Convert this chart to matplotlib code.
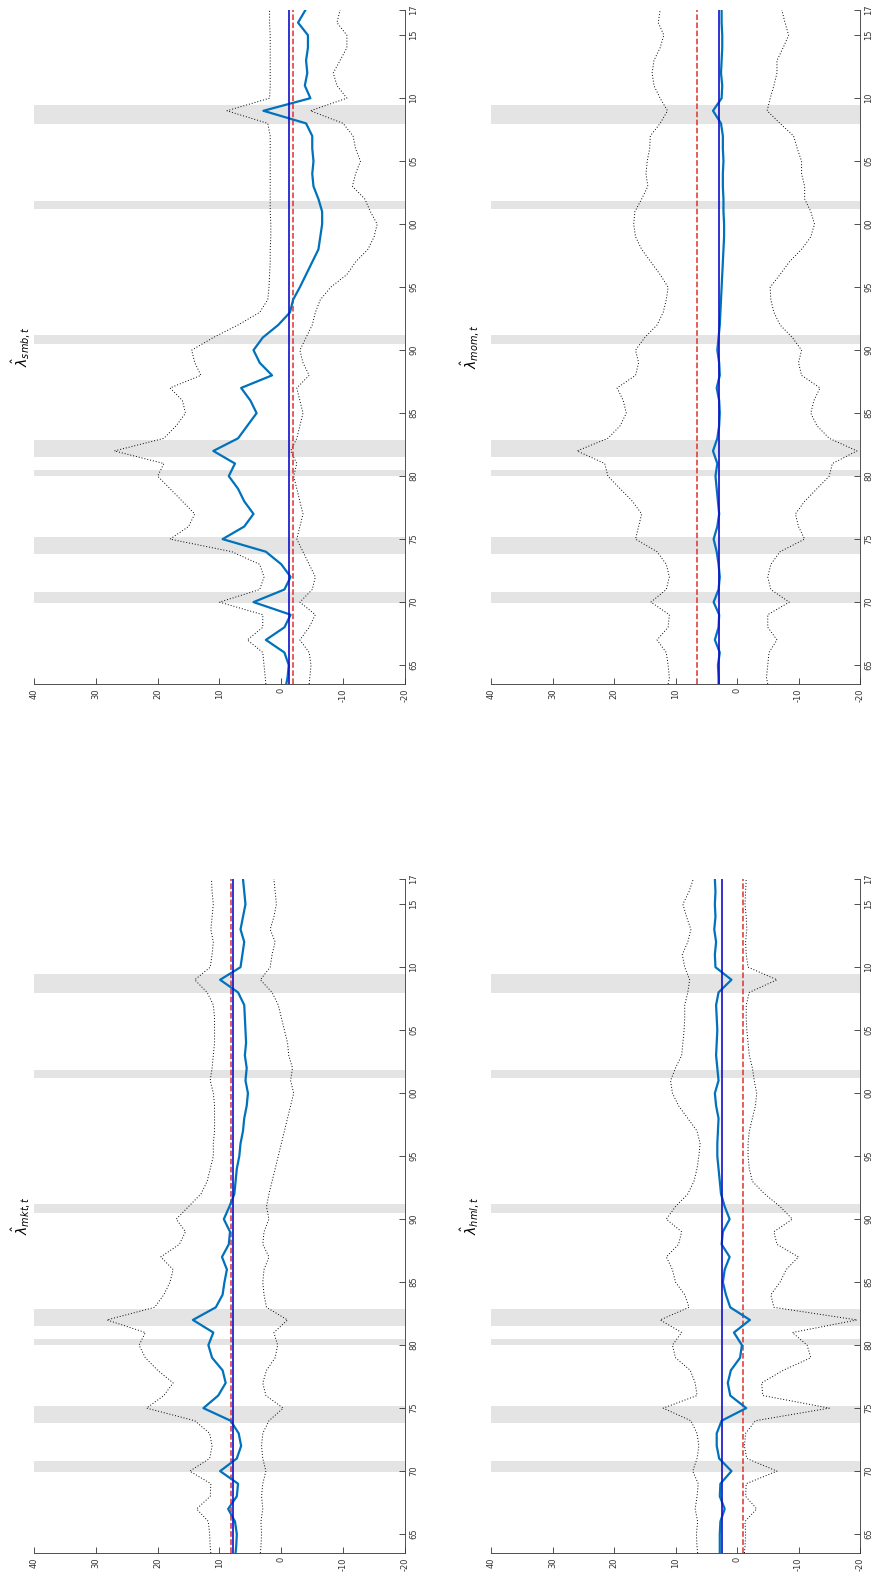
import numpy as np
import matplotlib
matplotlib.use("Agg")
import matplotlib.pyplot as plt

# sample dates (fractional years)
YEARS = [1963.5] + list(range(1964, 2018))

# NBER recessions (start, end)
RECESSIONS = [(1969.92, 1970.83), (1973.83, 1975.17), (1980.0, 1980.5),
              (1981.5, 1982.83), (1990.5, 1991.17), (2001.17, 2001.83),
              (2007.92, 2009.42)]

YEAR_TICKS = [1965, 1970, 1975, 1980, 1985, 1990, 1995, 2000, 2005, 2010, 2015, 2017]
YEAR_LABELS = ["65", "70", "75", "80", "85", "90", "95", "00", "05", "10", "15", "17"]
VALUE_TICKS = [40, 30, 20, 10, 0, -10, -20]

# market
lam_mkt = [7.4, 7.3, 7.2, 7.5, 8.6, 7.2, 7.0, 9.9, 7.2, 6.5, 6.9, 8.2, 12.6, 10.2,
           9.0, 9.5, 11.2, 11.8, 11.0, 14.3, 10.6, 9.5, 9.2, 8.8, 9.6, 8.5, 8.3,
           9.3, 8.4, 7.6, 7.4, 7.2, 6.8, 6.6, 6.2, 6.0, 5.6, 5.4, 5.8, 5.6, 5.9,
           5.7, 5.8, 5.9, 6.0, 7.0, 9.9, 6.6, 6.3, 6.0, 6.6, 6.2, 5.8, 6.0, 6.2]
up_mkt = [11.4, 11.5, 11.6, 11.8, 13.7, 11.5, 11.4, 14.8, 11.6, 11.2, 11.6, 14.0,
          21.8, 19.0, 17.5, 20.0, 22.0, 23.0, 22.0, 28.2, 20.5, 19.0, 18.0, 17.5,
          19.5, 16.5, 15.5, 17.0, 15.0, 13.0, 12.0, 11.5, 11.0, 11.0, 10.8, 10.8,
          10.8, 11.0, 11.5, 11.2, 11.0, 10.8, 10.8, 10.8, 11.0, 12.0, 14.0, 11.5,
          11.2, 11.0, 11.4, 11.2, 11.0, 11.2, 11.3]
lo_mkt = [3.4, 3.3, 3.2, 3.3, 3.0, 3.2, 3.0, 2.5, 3.0, 3.2, 3.0, 2.0, -0.3, 2.5,
          3.0, 2.4, 1.0, 0.6, 1.2, -1.0, 2.4, 2.8, 3.0, 2.8, 2.0, 3.0, 2.8, 2.0,
          2.4, 2.0, 1.5, 1.0, 0.5, 0.0, -0.5, -1.0, -1.5, -2.0, -1.5, -1.8, -1.2,
          -1.0, -0.5, 0.0, 0.5, 1.5, 3.4, 1.8, 1.5, 1.0, 1.8, 1.2, 0.8, 1.0, 1.2]
const_mkt, mean_mkt = 7.8, 8.2

# size
lam_smb = [-0.8, -1.0, -1.2, -0.5, 2.5, -0.5, -1.5, 4.5, -0.5, -1.5, 0.0, 2.5, 9.5,
           6.0, 4.5, 6.0, 7.0, 8.5, 7.5, 11.0, 7.0, 5.5, 4.0, 5.0, 6.5, 1.5, 3.5,
           4.5, 3.0, 0.5, -1.4, -1.9, -3.0, -4.0, -5.0, -6.0, -6.3, -6.6, -6.6,
           -6.0, -5.2, -5.0, -5.2, -5.0, -5.0, -4.0, 2.9, -4.7, -3.8, -4.2, -4.0,
           -4.3, -4.3, -2.7, -3.9]
up_smb = [2.5, 2.6, 2.8, 3.0, 5.5, 3.0, 3.0, 10.0, 3.5, 2.8, 3.5, 8.0, 18.0, 15.0,
          14.0, 16.0, 18.0, 20.0, 19.0, 27.0, 19.0, 17.0, 15.5, 16.0, 18.0, 13.0,
          14.0, 14.5, 11.0, 7.0, 3.5, 2.2, 2.0, 1.9, 1.8, 1.8, 1.7, 1.7, 1.8, 1.8,
          1.8, 1.8, 1.8, 1.8, 1.8, 2.2, 8.8, 1.9, 1.8, 1.8, 1.8, 1.8, 1.8, 1.9, 1.9]
lo_smb = [-4.5, -4.6, -4.8, -4.5, -3.0, -4.5, -5.5, -3.0, -5.0, -5.5, -4.5, -3.5,
          -2.5, -3.0, -3.5, -3.0, -2.5, -2.0, -2.5, -1.5, -2.5, -3.0, -3.5, -3.0,
          -2.5, -4.5, -3.5, -3.0, -4.0, -5.0, -5.5, -6.3, -8.0, -10.6, -12.0,
          -14.0, -15.0, -15.5, -14.4, -13.5, -11.5, -12.0, -12.8, -12.0, -11.6,
          -10.0, -4.7, -10.6, -9.0, -8.4, -9.5, -10.6, -10.6, -9.0, -9.5]
const_smb, mean_smb = -1.3, -1.9

# value
lam_hml = [2.8, 2.8, 2.8, 2.7, 2.0, 2.8, 2.7, 0.9, 2.9, 3.3, 3.3, 2.5, -1.5, 1.1,
           1.5, 1.0, -0.5, -0.8, 0.5, -2.1, 1.1, 1.8, 2.3, 2.0, 1.2, 2.5, 2.3,
           1.2, 2.0, 2.6, 2.8, 3.0, 3.2, 3.2, 3.1, 3.0, 3.4, 3.6, 3.0, 3.2, 3.4,
           3.3, 3.2, 3.3, 3.4, 3.0, 0.9, 3.5, 3.6, 3.4, 3.7, 3.5, 3.6, 3.5, 3.6]
up_hml = [6.4, 6.5, 6.6, 6.4, 6.8, 6.5, 6.3, 7.2, 6.5, 6.2, 6.5, 7.5, 12.0, 6.5,
          6.8, 7.6, 10.0, 10.5, 9.0, 12.5, 7.8, 8.5, 10.0, 10.5, 11.5, 9.5, 9.0,
          11.5, 10.0, 8.0, 7.0, 6.5, 6.2, 6.0, 6.5, 8.0, 9.5, 10.5, 10.8, 10.0,
          9.0, 8.8, 8.6, 8.5, 8.5, 8.0, 7.7, 8.5, 8.9, 8.0, 7.5, 8.2, 8.8, 7.8, 7.1]
lo_hml = [-1.2, -1.3, -1.4, -1.3, -3.2, -1.4, -1.5, -6.5, -1.6, -1.2, -1.4, -3.0,
          -15.0, -4.2, -4.0, -7.5, -12.0, -11.4, -9.0, -19.5, -6.0, -5.5, -7.0,
          -8.0, -10.0, -6.5, -6.0, -9.0, -7.0, -4.5, -2.5, -2.0, -1.8, -1.8, -2.0,
          -2.5, -3.0, -3.2, -2.8, -2.5, -2.0, -1.8, -1.6, -1.5, -1.5, -2.0, -6.5,
          -1.8, -1.5, -1.4, -1.6, -1.5, -1.3, -1.4, -1.5]
const_hml, mean_hml = 2.5, -1.0

# momentum
lam_mom = [3.0, 3.0, 3.1, 2.8, 3.6, 3.0, 2.9, 3.8, 3.0, 2.8, 3.0, 3.3, 3.8, 3.2,
           2.9, 3.1, 3.3, 3.5, 3.2, 3.9, 3.2, 2.9, 2.8, 2.9, 3.3, 2.8, 2.9, 3.2,
           3.0, 2.8, 2.7, 2.6, 2.5, 2.4, 2.3, 2.2, 2.1, 2.1, 2.2, 2.2, 2.3, 2.3,
           2.2, 2.3, 2.3, 2.6, 3.9, 2.5, 2.4, 2.6, 2.5, 2.4, 2.4, 2.5, 2.5]
up_mom = [11.2, 11.0, 11.2, 11.5, 13.0, 11.2, 11.0, 14.0, 11.5, 11.0, 11.5, 13.0,
          16.5, 16.0, 15.5, 17.0, 19.0, 21.0, 21.5, 26.0, 21.0, 19.0, 18.0, 18.5,
          19.5, 16.5, 16.0, 16.5, 15.0, 13.0, 12.0, 11.5, 11.2, 12.5, 14.0, 15.5,
          16.5, 16.8, 16.6, 15.5, 14.5, 14.8, 14.6, 14.2, 14.1, 12.5, 11.3, 12.5,
          13.5, 13.8, 13.5, 12.5, 11.9, 12.8, 12.5]
lo_mom = [-5.0, -4.8, -5.0, -5.2, -6.5, -5.0, -5.0, -8.5, -5.5, -5.0, -5.5, -7.0,
          -11.0, -10.0, -9.5, -11.0, -13.0, -15.0, -15.5, -19.5, -15.0, -13.0,
          -12.0, -12.5, -13.5, -10.5, -10.0, -10.5, -9.0, -7.0, -6.0, -5.5, -5.4,
          -7.0, -8.5, -10.5, -12.0, -12.6, -12.0, -11.0, -11.0, -10.5, -10.5, -9.8,
          -9.2, -7.0, -4.9, -5.4, -6.0, -6.5, -6.5, -7.5, -8.4, -7.8, -7.3]
const_mom, mean_mom = 3.0, 6.55


def draw_panel(ax, title, lam, up, lo, const, mean, title_x):
    # page is turned: time runs bottom -> top, values run right -> left
    for a, b in RECESSIONS:
        ax.axhspan(a, b, color="#e4e4e4", lw=0, zorder=0)
    ax.plot(up, YEARS, color="k", lw=0.7, ls=(0, (1, 2)), zorder=2)
    ax.plot(lo, YEARS, color="k", lw=0.7, ls=(0, (1, 2)), zorder=2)
    ax.plot([mean, mean], [YEARS[0], YEARS[-1]], "--", color="#e03030", lw=1.1, zorder=3)
    ax.plot(lam, YEARS, color="#0072BD", lw=1.6, zorder=4)
    ax.plot([const, const], [YEARS[0], YEARS[-1]], color="#1010c8", lw=1.2, zorder=5)

    ax.set_xlim(40, -20)
    ax.set_ylim(1963.5, 2017)
    ax.set_xticks(VALUE_TICKS)
    ax.set_xticklabels([str(v) for v in VALUE_TICKS], rotation=90, fontsize=6,
                       color="#333333")
    ax.yaxis.tick_right()
    ax.set_yticks(YEAR_TICKS)
    ax.set_yticklabels(YEAR_LABELS, rotation=90, fontsize=6, va="center",
                       color="#333333")
    ax.tick_params(direction="in", length=4, width=0.6, pad=3, colors="#333333")
    for s in ("top", "left"):
        ax.spines[s].set_visible(False)
    for s in ("bottom", "right"):
        ax.spines[s].set_linewidth(0.6)
        ax.spines[s].set_color("#333333")
    ax.text(title_x, 0.5, title, transform=ax.transAxes, rotation=90,
            ha="center", va="center", fontsize=10)


fig = plt.figure(figsize=(8.73, 15.74), dpi=100)
W, H = 873.0, 1574.0
col_left = [34 / W, 491 / W]
col_width = [371 / W, 369 / W]
row_bottom = [1 - 684 / H, 1 - 1553 / H]
row_height = 674 / H

ax_smb = fig.add_axes([col_left[0], row_bottom[0], col_width[0], row_height])
ax_mom = fig.add_axes([col_left[1], row_bottom[0], col_width[1], row_height])
ax_mkt = fig.add_axes([col_left[0], row_bottom[1], col_width[0], row_height])
ax_hml = fig.add_axes([col_left[1], row_bottom[1], col_width[1], row_height])

draw_panel(ax_mkt, r"$\hat{\lambda}_{mkt,t}$", lam_mkt, up_mkt, lo_mkt, const_mkt, mean_mkt, -0.035)
draw_panel(ax_smb, r"$\hat{\lambda}_{smb,t}$", lam_smb, up_smb, lo_smb, const_smb, mean_smb, -0.035)
draw_panel(ax_hml, r"$\hat{\lambda}_{hml,t}$", lam_hml, up_hml, lo_hml, const_hml, mean_hml, -0.057)
draw_panel(ax_mom, r"$\hat{\lambda}_{mom,t}$", lam_mom, up_mom, lo_mom, const_mom, mean_mom, -0.057)

fig.savefig("out.png", dpi=100)
